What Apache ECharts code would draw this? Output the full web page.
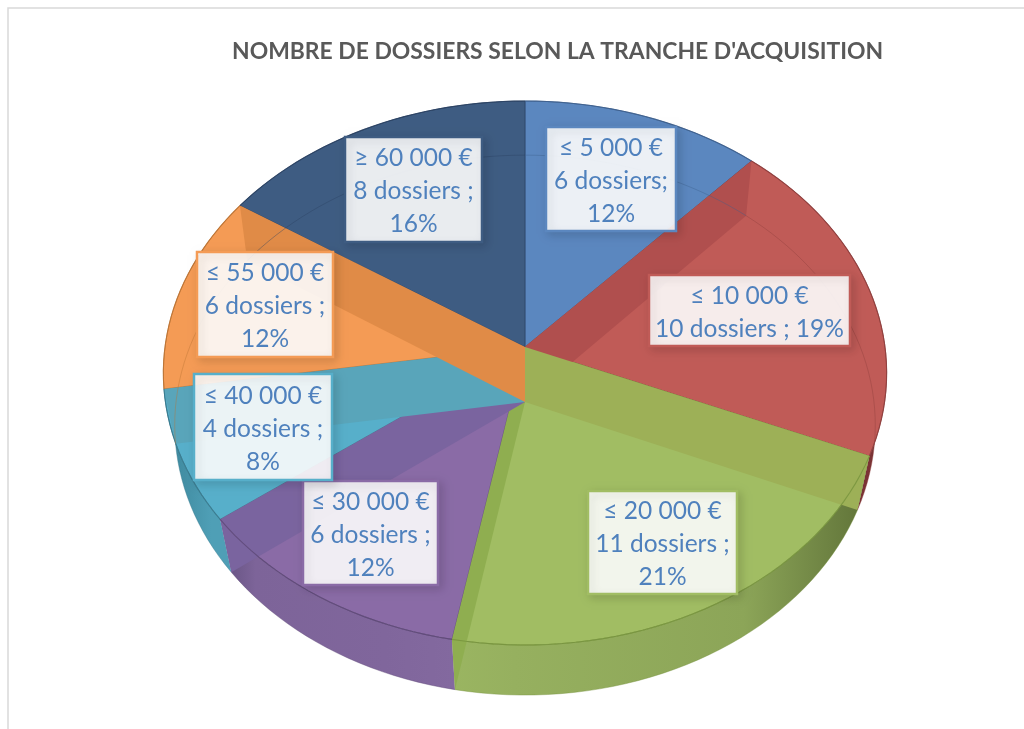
<!DOCTYPE html>
<html>
<head>
<meta charset="utf-8">
<title>Nombre de dossiers</title>
<script src="https://cdn.jsdelivr.net/npm/echarts@6/dist/echarts.min.js"></script>
<style>
html,body{margin:0;padding:0;background:#fff;}
#main{width:1024px;height:729px;}
</style>
</head>
<body>
<div id="main"></div>
<script>
var titleText = "NOMBRE DE DOSSIERS SELON LA TRANCHE D'ACQUISITION";
var categories = ['≤ 5 000 €','≤ 10 000 €','≤ 20 000 €','≤ 30 000 €','≤ 40 000 €','≤ 55 000 €','≥ 60 000 €'];
var dossiers = [6,10,11,6,4,6,8];
var percents = [12,19,21,12,8,12,16];
var dossierText = ['dossiers;\n','dossiers ; ','dossiers ;\n','dossiers ;\n','dossiers ;\n','dossiers ;\n','dossiers ;\n'];

// couleurs des parts
var faceColors = ['#5b87bf','#c05b57','#a1bd63','#8a6ba6','#57afca','#f49b55','#3e5c82'];
var stripStartColors = ['#3e5c82','#b04f4e','#9db057','#7a649f','#59a5ba','#e08b47','#3e5c82'];
var stripEndColors = ['#3e5c82','#b04f4e','#8fae50','#7a649f','#59a5ba','#e08b47','#3e5c82'];
var wallColors = [
	['#5b87bf','#5b87bf','#5b87bf','#5b87bf'],
	['#5a2528','#5a2528','#7a3335','#7a3335'],
	['#9ab561','#96b05f','#8ca558','#5f7238'],
	['#62507e','#7d6499','#80669c','#83699f'],
	['#2c6a7d','#3f8a9f','#4f9fb6','#4f9fb6'],
	['#f49b55','#f49b55','#f49b55','#f49b55'],
	['#3e5c82','#3e5c82','#3e5c82','#3e5c82']
];
var lineColors = ['#3d5f8c','#8f3f3d','#76923c','#5c4776','#37788c','#b97233','#2a4161'];

// cadres des etiquettes : x, y, largeur, hauteur
var labelBoxes = [[546,127,130,104],[649,275,201,71],[588,491,149,103],[303,481,135,104],[194,374,138,106],[197,252,136,105],[345,137,137,105]];

// face superieure et face inferieure du cylindre en perspective
var topFace = {ax:525, ay:347, R:360, H:269.5, k:0.0956};
var lowFace = {ax:525, ay:402, R:349, H:268, k:0.0856};

function rimPoint(deg, f){
	var a = deg*Math.PI/180;
	var u = Math.sin(a), v = -Math.cos(a);
	var d = 1 - f.k*v;
	return [f.ax + f.R*u/d, f.ay + f.H*v/d];
}
function rimPoints(a0, a1, f){
	var pts = [];
	var n = Math.max(2, Math.ceil((a1-a0)/2));
	for(var i=0;i<=n;i++){
		pts.push(rimPoint(a0+(a1-a0)*i/n, f));
	}
	return pts;
}

var total = 0;
for(var i=0;i<dossiers.length;i++){ total += dossiers[i]; }
var sliceData = [];
var cumul = 0;
for(var i=0;i<dossiers.length;i++){
	var a0 = cumul/total*360;
	cumul += dossiers[i];
	sliceData.push([i, a0, cumul/total*360]);
}

function renderWall(params, api){
	var i = api.value(0), a0 = api.value(1), a1 = api.value(2);
	var pts = rimPoints(a0,a1,topFace).concat(rimPoints(a0,a1,lowFace).reverse());
	var c = wallColors[i];
	return {type:'polygon', shape:{points:pts}, style:{
		fill:new echarts.graphic.LinearGradient(0,0,1,0,[
			{offset:0,color:c[0]},{offset:0.15,color:c[1]},{offset:0.7,color:c[2]},{offset:1,color:c[3]}
		])
	}};
}
function renderTop(params, api){
	var i = api.value(0), a0 = api.value(1), a1 = api.value(2);
	var pts = [[topFace.ax,topFace.ay]].concat(rimPoints(a0,a1,topFace));
	return {type:'polygon', shape:{points:pts}, style:{fill:faceColors[i], stroke:lineColors[i], lineWidth:0.7}};
}
function renderStrip(params, api){
	var i = api.value(0), a0 = api.value(1), a1 = api.value(2);
	var kids = [];
	function strip(a, color){
		kids.push({type:'polygon', shape:{points:[[topFace.ax,topFace.ay],[lowFace.ax,lowFace.ay],rimPoint(a,lowFace),rimPoint(a,topFace)]},
			style:{fill:color}});
	}
	if(a0<180){ strip(a0, stripStartColors[i]); }
	if(a1>180){ strip(a1, stripEndColors[i]); }
	return {type:'group', children:kids};
}
function renderRims(params, api){
	var i = api.value(0), a0 = api.value(1), a1 = api.value(2);
	return {type:'group', children:[
		{type:'polyline', shape:{points:rimPoints(a0,a1,lowFace)}, style:{fill:null, stroke:lineColors[i], lineWidth:1, opacity:0.4}},
		{type:'polyline', shape:{points:rimPoints(a0,a1,topFace)}, style:{fill:null, stroke:lineColors[i], lineWidth:1.1, opacity:0.8}}
	]};
}
function renderLabel(params, api){
	var i = api.value(0);
	var b = labelBoxes[i];
	return {type:'group', children:[
		{type:'rect', shape:{x:b[0],y:b[1],width:b[2],height:b[3]}, style:{
			fill:'rgba(255,255,255,0.89)', stroke:faceColors[i], lineWidth:2.5,
			shadowBlur:9, shadowOffsetX:3, shadowOffsetY:3, shadowColor:'rgba(0,0,0,0.14)'
		}},
		{type:'text', style:{
			text:categories[i]+'\n'+dossiers[i]+' '+dossierText[i]+percents[i]+'%',
			x:b[0]+b[2]/2, y:b[1]+b[3]/2+2, align:'center', verticalAlign:'middle',
			fill:'#4f81bd', fontFamily:'Lato', fontSize:24.5, lineHeight:33
		}}
	]};
}

function layer(fn, z){
	return {type:'custom', coordinateSystem:'none', renderItem:fn, data:sliceData, z:z, animation:false, silent:true, clip:false};
}

var chart = echarts.init(document.getElementById('main'), null, {renderer:'canvas'});
chart.setOption({
	animation:false,
	title:{
		text:titleText, left:227, top:35,
		textStyle:{color:'#595959', fontFamily:'Lato', fontWeight:'bold', fontSize:22.9}
	},
	graphic:[
		{type:'polyline', shape:{points:[[8,729],[8,8],[1024,8]]}, style:{fill:null, stroke:'#d9d9d9', lineWidth:1.5}}
	],
	series:[
		layer(renderWall,1),
		layer(renderTop,2),
		layer(renderStrip,3),
		layer(renderRims,4),
		layer(renderLabel,5)
	]
});
</script>
</body>
</html>
